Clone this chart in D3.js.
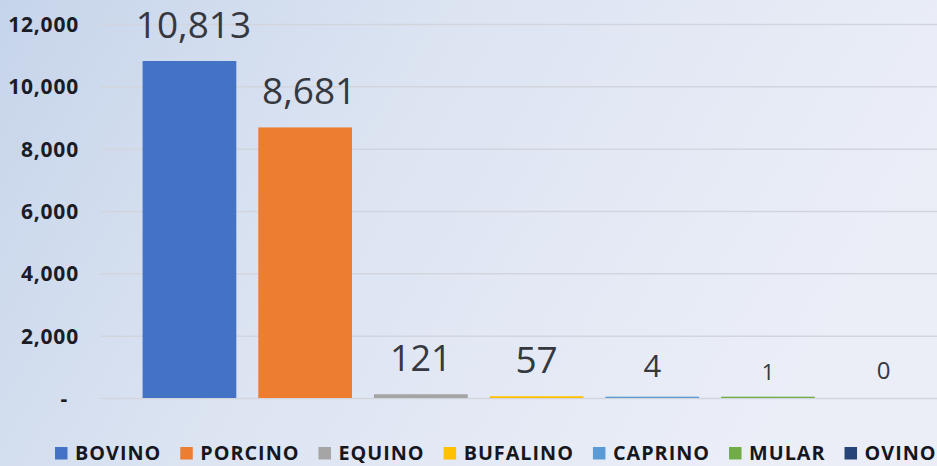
<!DOCTYPE html>
<html>
<head>
<meta charset="utf-8">
<script src="https://cdn.jsdelivr.net/npm/d3@7"></script>
<style>
  html, body { margin: 0; padding: 0; overflow: hidden; }
  svg { display: block; }
</style>
</head>
<body>
<div id="chart"></div>
<script>
// data
var categories = ["BOVINO", "PORCINO", "EQUINO", "BUFALINO", "CAPRINO", "MULAR", "OVINO"]
var values = [10813, 8681, 121, 57, 4, 1, 0]
var yTicks = [0, 2000, 4000, 6000, 8000, 10000, 12000]

// styles
var colors = ["#4472c4", "#ed7d31", "#a5a5a5", "#ffc000", "#5b9bd5", "#70ad47", "#264478"]
var labelSizes = [37, 37, 36, 37, 31, 22, 24]

var w = 937
var h = 466

var svg = d3.select("#chart")
    .append("svg")
    .attr("width", w)
    .attr("height", h)

/* background */
var defs = svg.append("defs")
var grad = defs.append("linearGradient")
    .attr("id", "bg")
    .attr("x1", "0").attr("y1", "0")
    .attr("x2", "1").attr("y2", "0.3")
grad.append("stop").attr("offset", "0").attr("stop-color", "#c6d4ea")
grad.append("stop").attr("offset", "0.45").attr("stop-color", "#dce4f2")
grad.append("stop").attr("offset", "1").attr("stop-color", "#ebeef7")

svg.append("rect")
    .attr("width", w)
    .attr("height", h)
    .attr("fill", "url(#bg)")

/* scales */
var x = d3.scaleBand()
    .domain(categories)
    .range([131.6, 941.5])
    .paddingInner(0.19)
    .paddingOuter(0.095)

var y = d3.scaleLinear()
    .domain([0, 12000])
    .range([398, 24])

/* grid + y axis */
var yAxis = d3.axisLeft(y)
    .tickValues(yTicks)
    .tickSize(-(w - 100))
    .tickPadding(21)
    .tickFormat(function (d) { return d === 0 ? "-" : d3.format(",")(d) })

var gy = svg.append("g")
    .attr("transform", "translate(100,0)")
    .call(yAxis)

gy.select(".domain").remove()
gy.selectAll(".tick line")
    .attr("stroke", "#d2d5dd")
    .attr("stroke-width", 1.5)
gy.selectAll(".tick text")
    .attr("fill", "#1a1c26")
    .attr("font-family", "'Open Sans', sans-serif")
    .attr("font-weight", "bold")
    .attr("font-size", 21)
    .attr("letter-spacing", 0.8)
    .attr("dy", "0.36em")
    .attr("dx", function (d) { return d === 0 ? -11 : 0 })

/* bars */
svg.selectAll("rect.bar")
    .data(values)
    .enter()
    .append("rect")
    .attr("class", "bar")
    .attr("x", function (d, i) { return x(categories[i]) })
    .attr("width", x.bandwidth())
    .attr("y", function (d) {
      var hh = y(0) - y(d)
      return d > 0 ? y(0) - Math.max(hh, 1.3) : y(0)
    })
    .attr("height", function (d) {
      var hh = y(0) - y(d)
      return d > 0 ? Math.max(hh, 1.3) : 0
    })
    .attr("fill", function (d, i) { return colors[i] })

/* value labels */
svg.selectAll("text.val")
    .data(values)
    .enter()
    .append("text")
    .attr("class", "val")
    .attr("x", function (d, i) { return x(categories[i]) + x.bandwidth() / 2 + (i < 2 ? 4 : 0) })
    .attr("y", function (d, i) { return y(d) - (11 + labelSizes[i] / 3) })
    .attr("text-anchor", "middle")
    .attr("font-family", "'Open Sans', sans-serif")
    .attr("font-size", function (d, i) { return labelSizes[i] })
    .attr("fill", "#35383f")
    .text(function (d) { return d3.format(",")(d) })

/* legend */
var legend = svg.append("g")
var lx = 55
categories.forEach(function (c, i) {
  legend.append("rect")
      .attr("x", lx)
      .attr("y", 447)
      .attr("width", 12.5)
      .attr("height", 12.5)
      .attr("fill", colors[i])
  var t = legend.append("text")
      .attr("x", lx + 20)
      .attr("y", 460)
      .attr("font-family", "'Open Sans', sans-serif")
      .attr("font-weight", "bold")
      .attr("font-size", 19.8)
      .attr("letter-spacing", 1)
      .attr("fill", "#15171f")
      .text(c)
  lx = lx + 20 + t.node().getComputedTextLength() + 19
})
</script>
</body>
</html>
